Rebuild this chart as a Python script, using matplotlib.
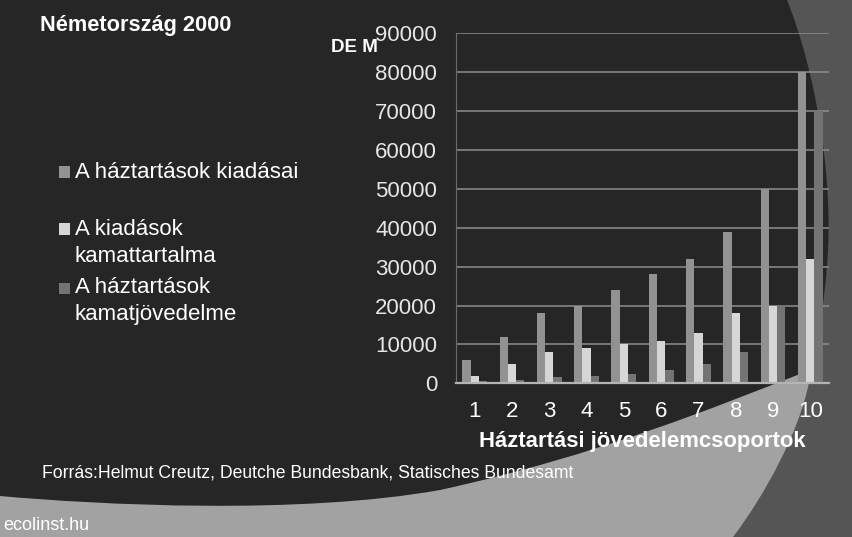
import numpy as np
import matplotlib.pyplot as plt
from matplotlib.path import Path
from matplotlib.patches import PathPatch, Rectangle

plt.rcParams['font.family'] = ['Liberation Sans', 'DejaVu Sans']

# data (DE M)
groups = ['1', '2', '3', '4', '5', '6', '7', '8', '9', '10']
kiadasai = [6000, 12000, 18000, 20000, 24000, 28000, 32000, 39000, 50000, 80000]
kamattartalma = [2000, 5000, 8000, 9000, 10000, 11000, 13000, 18000, 20000, 32000]
kamatjovedelme = [500, 900, 1500, 1800, 2300, 3500, 5000, 8000, 20000, 70000]
labels = ['A háztartások kiadásai', 'A kiadások\nkamattartalma', 'A háztartások\nkamatjövedelme']
colors = ['#929292', '#d6d6d6', '#747474']

W, H = 853, 537
fig = plt.figure(figsize=(W / 100, H / 100), dpi=100)
fig.patch.set_facecolor('#555555')


def px(x, y):
    return (x / W, 1 - y / H)


# background: light swoosh and dark panel
light = Path([px(0, 300), px(822, 300), px(809, 382), px(800, 430), px(765, 495),
              px(733, 537), px(0, 537), px(0, 300)],
             [Path.MOVETO, Path.LINETO, Path.LINETO, Path.CURVE4, Path.CURVE4,
              Path.CURVE4, Path.LINETO, Path.CLOSEPOLY])
fig.patches.append(PathPatch(light, transform=fig.transFigure, fc='#a2a2a2', ec='none', zorder=0))

dark = Path([px(0, 0), px(787, 0),
             px(815, 70), px(832, 170), px(828, 250),
             px(825, 310), px(816, 350), px(800, 374),
             px(720, 405), px(600, 455), px(440, 490),
             px(300, 515), px(100, 505), px(0, 496),
             px(0, 0)],
            [Path.MOVETO, Path.LINETO] + [Path.CURVE4] * 12 + [Path.CLOSEPOLY])
fig.patches.append(PathPatch(dark, transform=fig.transFigure, fc='#262626', ec='none', zorder=1))

ax = fig.add_axes([456 / W, 1 - 383.3 / H, 373 / W, 350 / H])
ax.set_facecolor('none')
ax.set_zorder(2)

x = np.arange(len(groups))
w = 0.222
for i, vals in enumerate([kiadasai, kamattartalma, kamatjovedelme]):
    ax.bar(x + (i - 1) * w, vals, w, color=colors[i], zorder=3)

ax.set_xlim(-0.5, len(groups) - 0.5)
ax.set_ylim(0, 90000)
ax.set_yticks(np.arange(0, 90001, 10000))
ax.set_xticks(x)
ax.set_xticklabels(groups)
ax.yaxis.grid(True, color='#8e8e8e', lw=1.1)
ax.set_axisbelow(True)
for s in ['top', 'right']:
    ax.spines[s].set_visible(False)
ax.spines['left'].set_color('#6a6a6a')
ax.spines['left'].set_linewidth(0.8)
ax.spines['bottom'].set_color('#b4b4b4')
ax.spines['bottom'].set_linewidth(1.6)
ax.spines['bottom'].set_zorder(4)
ax.tick_params(axis='y', length=0, pad=13.5, labelsize=16, labelcolor='#e6e6e6')
ax.tick_params(axis='x', length=0, pad=13, labelsize=16, labelcolor='white')

fig.text(*px(40, 31), 'Németország 2000', color='white', fontsize=15.7, fontweight='bold',
         va='baseline', ha='left')
fig.text(*px(354, 48), 'DE M', color='white', fontsize=13.5, fontweight='bold',
         va='center', ha='center')
fig.text(*px(642, 441), 'Háztartási jövedelemcsoportok', color='white', fontsize=15.9,
         fontweight='bold', va='center', ha='center')
fig.text(*px(42, 473), 'Forrás:Helmut Creutz, Deutche Bundesbank, Statisches Bundesamt',
         color='white', fontsize=12.7, va='center', ha='left')
fig.text(*px(3, 526), 'ecolinst.hu', color='white', fontsize=13, va='center', ha='left')

# legend
legend_y = [172, 243, 301]
square_y = [172, 229, 288]
for lab, c, ty, sy in zip(labels, colors, legend_y, square_y):
    fig.patches.append(Rectangle(px(59, sy + 5.5), 11 / W, 11 / H, transform=fig.transFigure,
                                 fc=c, ec='none', zorder=3))
    fig.text(*px(75, ty), lab, color='white', fontsize=16, va='center', ha='left',
             linespacing=1.35)

fig.savefig('out.png', dpi=100, facecolor=fig.get_facecolor())
